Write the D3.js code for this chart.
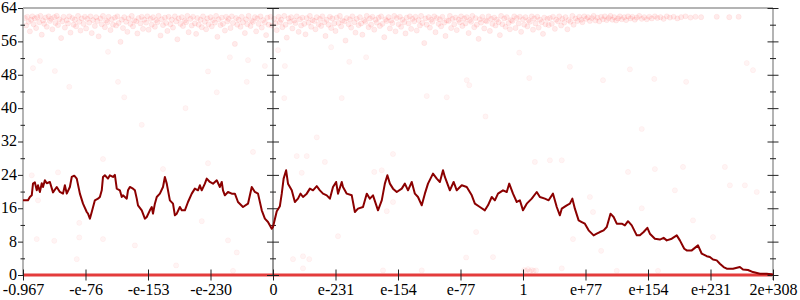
<!DOCTYPE html>
<html lang="en">
<head>
<meta charset="utf-8">
<title>bits</title>
<script src="https://cdn.jsdelivr.net/npm/d3@7"></script>
<style>
  body { margin: 0; background: #fff; }
  svg text { font-family: "Liberation Serif", serif; font-size: 16px; fill: #000; }
</style>
</head>
<body>
<div id="chart"></div>
<script>
var xLabels = ["-0.967", "-e-76", "-e-153", "-e-230", "0", "e-231", "e-154", "e-77", "1", "e+77", "e+154", "e+231", "2e+308"];
var yMajor = [0, 8, 16, 24, 32, 40, 48, 56, 64];
var yMinor = [4, 12, 20, 28, 36, 44, 52, 60];

// dark red running line, [position, value]
var trend = [[0.00,17.9],[0.08,17.9],[0.11,18.7],[0.14,19.1],[0.16,21.9],[0.19,22.2],[0.22,20.3],[0.24,21.5],[0.27,19.9],[0.30,22.0],
  [0.32,21.1],[0.35,22.7],[0.38,22.0],[0.43,22.3],[0.48,19.8],[0.54,21.1],[0.59,19.9],[0.64,19.5],[0.67,21.5],[0.70,19.5],
  [0.75,21.1],[0.78,23.5],[0.82,23.8],[0.86,23.1],[0.91,19.5],[0.96,17.1],[1.02,15.1],[1.04,14.7],[1.07,13.5],[1.10,15.1],
  [1.15,17.9],[1.20,18.3],[1.23,18.7],[1.26,20.3],[1.28,23.5],[1.31,23.9],[1.36,23.1],[1.39,23.9],[1.44,23.5],[1.47,24.0],
  [1.50,20.7],[1.55,20.3],[1.58,18.7],[1.60,19.1],[1.66,18.3],[1.68,20.3],[1.71,21.1],[1.76,20.7],[1.79,20.3],[1.82,18.3],
  [1.84,16.7],[1.90,15.5],[1.95,13.5],[1.98,13.9],[2.03,15.5],[2.06,16.3],[2.08,14.7],[2.11,17.1],[2.14,18.7],[2.19,19.5],
  [2.24,21.1],[2.27,23.5],[2.30,21.9],[2.32,20.3],[2.35,17.9],[2.40,17.1],[2.43,14.3],[2.46,14.7],[2.51,16.3],[2.54,15.5],
  [2.59,15.5],[2.64,17.5],[2.70,19.5],[2.75,20.7],[2.80,20.3],[2.83,21.5],[2.86,20.3],[2.91,21.9],[2.94,23.1],[2.99,22.3],
  [3.04,21.9],[3.10,22.7],[3.15,21.1],[3.18,22.3],[3.20,20.3],[3.23,19.1],[3.28,19.9],[3.34,19.5],[3.39,19.5],[3.44,17.5],
  [3.52,16.3],[3.60,17.1],[3.66,21.1],[3.71,19.9],[3.76,19.5],[3.82,15.5],[3.87,13.5],[3.92,12.7],[3.98,11.1],[4.00,11.5],
  [4.06,15.3],[4.11,16.5],[4.14,19.5],[4.17,23.1],[4.21,25.1],[4.24,21.9],[4.30,20.3],[4.35,17.5],[4.40,18.3],[4.44,19.5],
  [4.48,18.7],[4.54,19.5],[4.59,20.7],[4.64,20.3],[4.70,21.3],[4.75,20.3],[4.80,19.5],[4.86,19.1],[4.91,18.3],[4.96,21.1],
  [5.01,22.3],[5.04,19.5],[5.10,22.3],[5.12,21.1],[5.18,19.5],[5.26,19.1],[5.31,15.1],[5.36,15.9],[5.44,16.3],[5.50,19.5],
  [5.55,18.3],[5.60,19.1],[5.68,15.5],[5.74,17.9],[5.79,21.9],[5.83,23.9],[5.87,21.9],[5.92,20.7],[5.98,19.9],[6.06,20.7],
  [6.11,21.9],[6.16,20.3],[6.22,22.3],[6.27,19.5],[6.32,18.7],[6.38,16.7],[6.43,19.5],[6.48,21.9],[6.56,24.3],[6.62,23.1],
  [6.67,22.3],[6.72,25.1],[6.75,23.5],[6.83,20.3],[6.89,22.3],[6.94,20.3],[7.02,21.5],[7.10,21.1],[7.18,19.1],[7.23,17.1],
  [7.31,16.3],[7.39,15.5],[7.44,16.7],[7.50,18.7],[7.55,17.9],[7.60,19.5],[7.68,20.3],[7.74,19.9],[7.78,21.9],[7.84,19.5],
  [7.90,17.5],[7.95,17.9],[8.00,15.5],[8.06,17.1],[8.14,18.3],[8.22,19.9],[8.27,18.7],[8.35,18.3],[8.41,17.9],[8.48,19.5],
  [8.54,16.3],[8.59,14.3],[8.62,15.9],[8.70,16.7],[8.75,17.1],[8.79,18.3],[8.83,15.9],[8.89,13.1],[8.94,12.7],[8.99,12.3],
  [9.05,10.7],[9.13,9.5],[9.18,9.9],[9.23,10.3],[9.29,10.7],[9.34,11.5],[9.40,14.7],[9.45,13.9],[9.50,12.3],[9.58,12.3],
  [9.63,11.9],[9.68,12.9],[9.74,11.9],[9.82,9.5],[9.87,9.5],[9.93,10.3],[9.99,11.3],[10.03,9.9],[10.11,8.7],[10.19,8.5],
  [10.25,8.9],[10.30,8.3],[10.38,8.7],[10.46,9.5],[10.51,8.3],[10.58,6.3],[10.62,5.9],[10.70,5.9],[10.75,6.5],[10.80,7.1],
  [10.86,5.1],[10.94,4.5],[10.99,4.3],[11.04,3.7],[11.10,3.5],[11.15,2.7],[11.21,1.9],[11.26,1.5],[11.36,1.5],[11.47,1.9],
  [11.52,1.3],[11.60,1.2],[11.68,0.7],[11.79,0.3],[11.90,0.3],[12.00,0.1]];

// dense band of samples near the top
var topPts = [[0.03,61.6],[0.05,59.8],[0.07,61.9],[0.09,60.7],[0.11,58.4],[0.13,61.2],[0.15,62.0],[0.17,60.1],[0.19,61.5],[0.21,59.2],
  [0.23,61.8],[0.26,60.6],[0.28,62.1],[0.30,57.6],[0.32,61.0],[0.34,60.2],[0.36,61.7],[0.38,59.5],[0.41,62.0],[0.43,60.9],
  [0.45,61.4],[0.47,58.9],[0.50,61.8],[0.52,60.4],[0.54,62.1],[0.56,59.9],[0.58,61.3],[0.61,56.8],[0.63,60.8],[0.65,61.9],
  [0.67,59.3],[0.70,61.1],[0.72,60.3],[0.74,62.0],[0.76,58.1],[0.79,61.6],[0.81,60.0],[0.83,61.2],[0.85,59.6],[0.88,62.1],
  [0.90,60.7],[0.92,58.6],[0.94,61.5],[0.97,60.2],[0.99,61.9],
  [1.01,59.1],[1.03,61.4],[1.06,60.5],[1.08,62.0],[1.10,58.0],[1.12,61.1],[1.15,59.7],[1.17,61.8],[1.19,60.9],[1.21,57.2],
  [1.24,61.5],[1.26,60.1],[1.28,62.1],[1.31,59.4],[1.33,61.0],[1.35,60.6],[1.37,61.9],[1.40,58.7],[1.42,61.3],[1.44,60.0],
  [1.47,61.7],[1.49,59.8],[1.51,62.0],[1.53,60.4],[1.56,55.9],[1.58,61.2],[1.60,59.2],[1.62,61.8],[1.65,60.7],[1.67,58.3],
  [1.69,61.5],[1.72,60.2],[1.74,62.1],[1.76,59.6],[1.78,61.0],[1.81,60.8],[1.83,57.9],[1.85,61.6],[1.88,60.3],[1.90,61.9],
  [1.92,59.0],[1.94,61.2],[1.97,60.5],[1.99,62.0],
  [2.01,58.8],[2.04,61.4],[2.06,60.0],[2.08,61.8],[2.11,59.5],[2.13,61.1],[2.15,60.6],[2.17,62.1],[2.20,57.4],[2.22,61.3],
  [2.24,59.9],[2.27,61.7],[2.29,60.4],[2.31,58.5],[2.33,61.9],[2.36,60.1],[2.38,61.2],[2.40,59.3],[2.43,62.0],[2.45,60.8],
  [2.47,56.5],[2.49,61.5],[2.52,60.2],[2.54,61.8],[2.56,59.7],[2.59,61.0],[2.61,60.6],[2.63,62.1],[2.65,58.2],[2.68,61.4],
  [2.70,59.8],[2.72,61.9],[2.75,60.3],[2.77,57.8],[2.79,61.6],[2.81,60.0],[2.84,61.2],[2.86,59.4],[2.88,62.0],[2.91,60.7],
  [2.93,58.9],[2.95,61.5],[2.97,60.1],[3.00,61.8],
  [3.02,59.6],[3.04,61.1],[3.07,60.5],[3.09,62.1],[3.11,57.1],[3.13,61.3],[3.16,59.9],[3.18,61.7],[3.20,60.2],[3.23,58.6],
  [3.25,61.9],[3.27,60.8],[3.29,61.4],[3.32,59.2],[3.34,62.0],[3.36,60.4],[3.39,55.4],[3.41,61.6],[3.43,60.0],[3.45,61.2],
  [3.48,59.5],[3.50,61.9],[3.52,60.6],[3.55,58.0],[3.57,61.3],[3.59,60.1],[3.61,62.1],[3.64,59.7],[3.66,61.0],[3.68,60.7],
  [3.71,61.8],[3.73,58.4],[3.75,61.5],[3.77,60.2],[3.80,62.0],[3.82,59.3],[3.84,61.1],[3.87,60.5],[3.89,57.5],[3.91,61.7],
  [3.93,60.0],[3.96,61.9],[3.98,59.8],
  [4.02,61.4],[4.04,60.3],[4.06,58.7],[4.09,61.9],[4.11,60.6],[4.13,61.2],[4.15,59.4],[4.18,62.1],[4.20,60.0],[4.22,56.9],
  [4.25,61.5],[4.27,60.7],[4.29,61.8],[4.31,59.1],[4.34,61.0],[4.36,60.4],[4.38,62.0],[4.41,58.3],[4.43,61.3],[4.45,59.8],
  [4.47,61.7],[4.50,60.2],[4.52,57.7],[4.54,61.6],[4.57,60.5],[4.59,62.1],[4.61,59.5],[4.63,61.1],[4.66,60.9],[4.68,58.9],
  [4.70,61.8],[4.73,60.1],[4.75,61.4],[4.77,59.7],[4.79,62.0],[4.82,60.6],[4.84,57.3],[4.86,61.2],[4.89,60.0],[4.91,61.9],
  [4.93,59.2],[4.95,61.5],[4.98,60.3],
  [5.00,58.5],[5.02,61.7],[5.05,60.4],[5.07,62.1],[5.09,59.6],[5.11,61.0],[5.14,60.8],[5.16,56.2],[5.18,61.6],[5.21,60.1],
  [5.23,61.3],[5.25,59.3],[5.27,62.0],[5.30,60.6],[5.32,58.1],[5.34,61.4],[5.37,59.9],[5.39,61.8],[5.41,60.3],[5.43,57.6],
  [5.46,61.1],[5.48,60.7],[5.50,62.1],[5.53,59.4],[5.55,61.5],[5.57,60.0],[5.59,61.9],[5.62,58.8],[5.64,61.2],[5.66,60.5],
  [5.69,61.7],[5.71,59.7],[5.73,62.0],[5.75,60.2],[5.78,57.0],[5.80,61.3],[5.82,60.9],[5.85,61.8],[5.87,59.1],[5.89,61.0],
  [5.91,60.4],[5.94,62.1],[5.96,58.4],[5.98,61.6],
  [6.01,60.1],[6.03,61.9],[6.05,59.5],[6.07,61.2],[6.10,60.6],[6.12,57.9],[6.14,61.7],[6.17,60.3],[6.19,62.0],[6.21,59.0],
  [6.23,61.4],[6.26,60.8],[6.28,61.9],[6.30,58.6],[6.33,61.1],[6.35,59.8],[6.37,62.1],[6.39,60.4],[6.42,55.6],[6.44,61.5],
  [6.46,60.0],[6.49,61.8],[6.51,59.3],[6.53,61.2],[6.55,60.7],[6.58,62.0],[6.60,58.2],[6.62,61.6],[6.65,60.2],[6.67,61.3],
  [6.69,59.6],[6.71,61.9],[6.74,60.5],[6.76,57.3],[6.78,61.0],[6.81,60.9],[6.83,62.1],[6.85,59.2],[6.87,61.4],[6.90,60.1],
  [6.92,61.7],[6.94,58.7],[6.97,61.2],[6.99,60.6],
  [7.01,62.0],[7.03,59.7],[7.06,61.5],[7.08,60.3],[7.10,61.8],[7.13,58.0],[7.15,61.1],[7.17,60.7],[7.19,62.1],[7.22,59.4],
  [7.24,61.6],[7.26,60.0],[7.29,56.6],[7.31,61.3],[7.33,60.5],[7.35,61.9],[7.38,59.1],[7.40,61.0],[7.42,60.8],[7.45,62.0],
  [7.47,58.5],[7.49,61.4],[7.51,60.2],[7.54,61.7],[7.56,59.8],[7.58,61.2],[7.61,60.6],[7.63,57.5],[7.65,62.1],[7.67,60.1],
  [7.70,61.5],[7.72,59.5],[7.74,61.8],[7.77,60.4],[7.79,58.9],[7.81,61.1],[7.83,60.9],[7.86,62.0],[7.88,59.2],[7.90,61.6],
  [7.93,60.3],[7.95,61.9],[7.97,58.3],
  [8.00,61.3],[8.02,60.0],[8.04,61.8],[8.07,59.6],[8.09,61.1],[8.11,60.7],[8.14,62.0],[8.16,58.8],[8.18,61.5],[8.20,60.3],
  [8.23,61.9],[8.25,59.3],[8.27,61.2],[8.30,60.6],[8.32,57.8],[8.34,61.7],[8.36,60.1],[8.39,61.4],[8.41,59.9],
  [8.43,61.6],[8.46,60.2],[8.48,61.9],[8.51,59.0],[8.53,61.2],[8.56,60.8],[8.58,62.0],[8.61,59.8],[8.63,61.4],[8.66,60.5],
  [8.68,61.8],[8.71,58.9],[8.73,61.1],[8.76,60.7],[8.79,62.1],[8.81,60.0],[8.84,61.5],[8.87,60.9],[8.90,61.9],[8.93,61.2],
  [8.95,60.6],[8.98,62.0],[9.01,61.4],[9.04,61.8],[9.07,60.9],[9.10,61.6],[9.13,62.1],[9.16,61.0],[9.19,61.7],[9.22,60.8],
  [9.25,61.9],[9.28,61.3],[9.31,62.0],[9.34,61.1],[9.37,61.6],[9.40,62.1],[9.43,61.2],[9.46,61.8],[9.49,61.0],[9.52,61.5],
  [9.55,62.0],[9.58,61.3],[9.62,61.8],[9.65,61.1],[9.68,62.0],[9.72,61.5],[9.75,61.9],[9.79,61.2],[9.82,61.7],[9.86,62.1],
  [9.90,61.4],[9.94,61.8],[9.98,61.3],[10.02,61.9],[10.06,61.5],[10.11,62.0],[10.15,61.6],[10.20,61.8],[10.25,61.4],[10.30,62.0],
  [10.35,61.7],[10.41,61.9],[10.47,61.5],[10.53,61.8],[10.60,62.0],[10.68,61.7],[10.76,61.9],[10.85,61.8],[11.10,61.9],[11.30,61.8],
  [11.45,61.9]];

// sparse samples further down
var midPts = [[0.27,51.3],[0.16,49.6],[0.51,48.9],[0.74,45.1],[1.52,46.3],[1.62,42.6],[1.36,53.5],[2.96,48.8],[3.31,52.2],[3.60,51.5],
  [3.58,46.3],[3.10,43.8],[3.87,50.1],[4.08,53.9],[4.19,50.1],[4.93,54.6],[5.22,51.1],[5.49,52.2],[5.10,42.4],[6.46,42.9],
  [6.78,42.6],[7.10,46.7],[7.14,45.5],[8.10,47.2],[7.94,53.3],[4.18,42.4],[8.75,49.9],[9.71,49.3],[9.28,46.7],[10.10,47.0],
  [10.61,46.3],[11.58,50.8],[11.68,49.1],[1.90,36.0],[4.70,33.0],[7.40,38.0],[9.90,35.0],[2.60,40.0]];

var lowPts = [[1.28,27.8],[2.24,25.4],[2.96,26.8],[3.68,29.5],[0.24,17.9],[0.90,12.5],[0.22,8.6],[0.50,8.2],[0.90,9.0],[1.28,8.6],
  [1.79,7.1],[2.86,12.9],[3.28,8.3],[3.42,5.4],[0.86,3.8],[2.45,2.3],[3.36,1.0],[0.56,24.6],[0.14,23.9],[4.38,28.5],
  [4.54,28.5],[4.46,24.5],[4.83,27.1],[5.92,29.0],[5.62,24.7],[5.74,25.1],[8.19,27.1],[5.82,15.3],[5.92,17.5],[5.04,9.3],
  [7.25,10.3],[4.32,3.8],[4.48,4.5],[4.58,3.8],[4.48,1.6],[5.76,1.1],[6.38,1.1],[7.09,4.2],[7.52,4.3],[8.43,27.5],
  [8.62,27.5],[9.68,24.7],[10.11,25.4],[10.56,25.9],[11.23,25.9],[11.31,21.5],[11.55,21.5],[11.74,19.9],[9.07,18.7],[9.90,16.0],
  [9.12,15.1],[10.43,20.3],[10.72,13.1],[11.04,9.1],[8.80,8.6],[9.25,5.8],[8.62,1.6],[9.50,1.0],[10.16,1.0],
  [8.02,1.2],[8.05,1.0],[8.08,1.4],[8.11,0.9],[8.14,1.2],[8.17,1.0],[8.21,1.1]];

// samples sitting exactly on zero across the whole range
var zeroBand = [[0, 0], [12, 0]];

var w = 800, h = 300;
var x = d3.scaleLinear().domain([0, 12]).range([23, 773]);
var y = d3.scaleLinear().domain([0, 64]).range([275, 8]);

var svg = d3.select("#chart").append("svg").attr("width", w).attr("height", h);

var drawPts = function(pts, fillOp, strokeOp) {
  svg.append("g").selectAll("circle")
    .data(pts)
    .enter()
    .append("circle")
    .attr("cx", function(d) { return x(d[0]); })
    .attr("cy", function(d) { return y(d[1]); })
    .attr("r", 2.6)
    .attr("fill", "#ff0000")
    .attr("fill-opacity", fillOp)
    .attr("stroke", "#ff0000")
    .attr("stroke-opacity", strokeOp)
    .attr("stroke-width", 0.7);
};
drawPts(topPts, 0.08, 0.08);
drawPts(midPts, 0.045, 0.05);
drawPts(lowPts, 0.045, 0.05);

var line = d3.line()
  .x(function(d) { return x(d[0]); })
  .y(function(d) { return y(d[1]); });

svg.append("path")
  .datum(zeroBand)
  .attr("d", line)
  .attr("fill", "none")
  .attr("stroke", "#e43c3c")
  .attr("stroke-width", 3.2);

// frame lines
svg.append("line").attr("x1", x(0)).attr("x2", x(12)).attr("y1", y(64)).attr("y2", y(64))
  .attr("stroke", "#b4b4b4").attr("stroke-width", 2);
svg.append("line").attr("x1", x(0)).attr("x2", x(0)).attr("y1", y(64)).attr("y2", y(0))
  .attr("stroke", "#b4b4b4").attr("stroke-width", 2);
svg.append("line").attr("x1", x(12)).attr("x2", x(12)).attr("y1", y(64)).attr("y2", y(0) + 5)
  .attr("stroke", "#b4b4b4").attr("stroke-width", 2);
svg.append("line").attr("x1", x(4)).attr("x2", x(4)).attr("y1", y(64)).attr("y2", y(0))
  .attr("stroke", "#333").attr("stroke-width", 1);

function styleTicks(g) {
  g.select(".domain").remove();
  g.selectAll(".tick line").attr("stroke", "#222");
  g.selectAll(".tick text").attr("font-family", "Liberation Serif, serif").attr("font-size", 16).attr("fill", "#000");
}

// left axis
svg.append("g")
  .attr("transform", "translate(" + x(0) + ",0)")
  .call(d3.axisLeft(y).tickValues(yMajor).tickSizeInner(5).tickSizeOuter(0).tickPadding(1))
  .call(styleTicks)
  .selectAll(".tick text").attr("dy", "0.28em");
svg.append("g")
  .attr("transform", "translate(" + (x(0) + 2) + ",0)")
  .call(d3.axisLeft(y).tickValues(yMinor).tickSizeInner(4.5).tickSizeOuter(0).tickFormat(""))
  .call(styleTicks);

// middle and right axes, ticks across the line
[[4, 6, 3], [12, 5.5, 3]].forEach(function(a) {
  svg.append("g")
    .attr("transform", "translate(" + (x(a[0]) - a[1]) + ",0)")
    .call(d3.axisRight(y).tickValues(yMajor).tickSizeInner(a[1] * 2).tickSizeOuter(0).tickFormat(""))
    .call(styleTicks);
  svg.append("g")
    .attr("transform", "translate(" + (x(a[0]) - a[2]) + ",0)")
    .call(d3.axisRight(y).tickValues(yMinor).tickSizeInner(a[2] * 2).tickSizeOuter(0).tickFormat(""))
    .call(styleTicks);
});

// bottom axis
svg.append("g")
  .attr("transform", "translate(0," + (y(0) - 5.5) + ")")
  .call(d3.axisBottom(x).tickValues(d3.range(xLabels.length))
    .tickFormat(function(i) { return xLabels[i]; })
    .tickSizeInner(11).tickSizeOuter(0).tickPadding(3.5))
  .call(styleTicks);

// running line
svg.append("path")
  .datum(trend)
  .attr("d", line)
  .attr("fill", "none")
  .attr("stroke", "#8b0000")
  .attr("stroke-width", 2)
  .attr("stroke-linejoin", "round");
</script>
</body>
</html>
